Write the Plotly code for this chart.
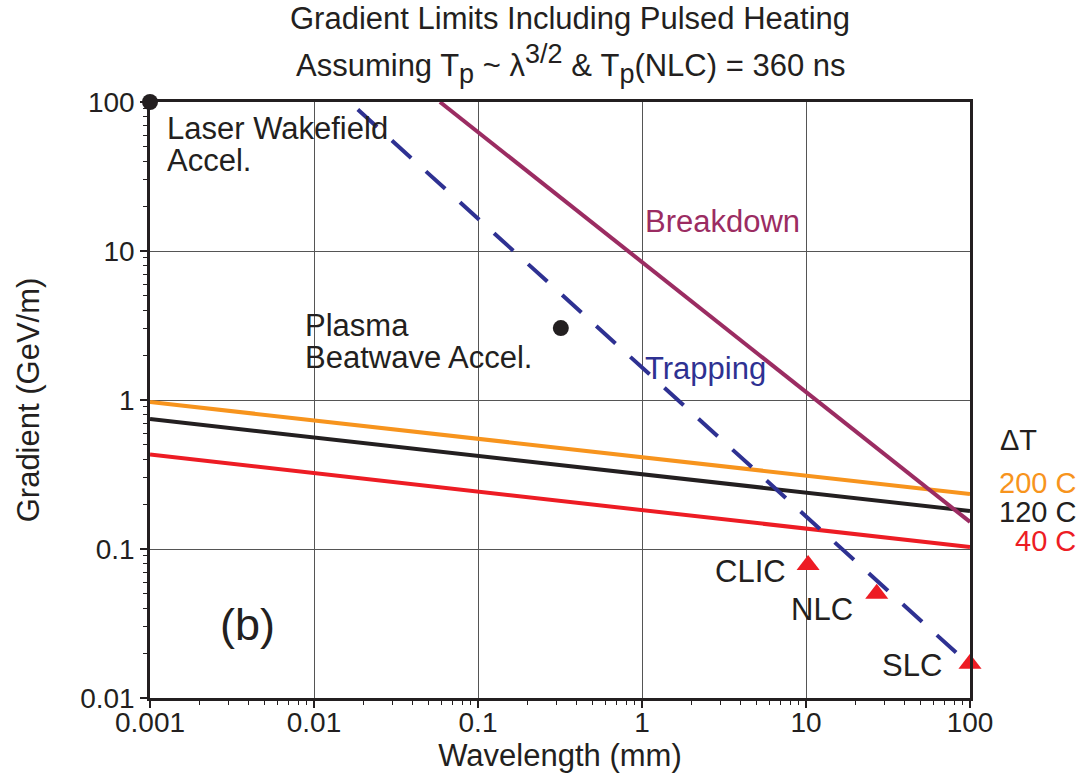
import plotly.graph_objects as go

# Data
breakdown_x = [0.0586, 100]
breakdown_y = [100, 0.152]
trapping_x = [0.0185, 100]
trapping_y = [89, 0.0166]
dt200_x = [0.001, 100]
dt200_y = [0.97, 0.234]
dt120_x = [0.001, 100]
dt120_y = [0.745, 0.18]
dt40_x = [0.001, 100]
dt40_y = [0.43, 0.103]
plasma_x = [0.001, 0.32]
plasma_y = [100, 3.04]
collider_names = ["CLIC", "NLC", "SLC"]
collider_x = [10.3, 27, 100]
collider_y = [0.078, 0.05, 0.017]
x_ticks = [0.001, 0.01, 0.1, 1, 10, 100]
x_ticklabels = ["0.001", "0.01", "0.1", "1", "10", "100"]
y_ticks = [0.01, 0.1, 1, 10, 100]
y_ticklabels = ["0.01", "0.1", "1", "10", "100"]

FONT = "Liberation Sans, Arial, sans-serif"
ORANGE = "#F7941D"
BLACK = "#231F20"
RED = "#ED1C24"
PURPLE = "#9B2C62"
BLUE = "#2E3192"
FS = 31

fig = go.Figure()
fig.add_trace(go.Scatter(x=dt200_x, y=dt200_y, mode="lines", line=dict(color=ORANGE, width=4), showlegend=False))
fig.add_trace(go.Scatter(x=dt120_x, y=dt120_y, mode="lines", line=dict(color=BLACK, width=4), showlegend=False))
fig.add_trace(go.Scatter(x=dt40_x, y=dt40_y, mode="lines", line=dict(color=RED, width=4), showlegend=False))
fig.add_trace(go.Scatter(x=breakdown_x, y=breakdown_y, mode="lines", line=dict(color=PURPLE, width=4), showlegend=False))
fig.add_trace(go.Scatter(x=trapping_x, y=trapping_y, mode="lines",
                         line=dict(color=BLUE, width=4, dash="26px,20px"), showlegend=False))
fig.add_trace(go.Scatter(x=plasma_x, y=plasma_y, mode="markers",
                         marker=dict(color=BLACK, size=16), cliponaxis=False, showlegend=False))
fig.add_trace(go.Scatter(x=collider_x, y=collider_y, mode="markers",
                         marker=dict(color=RED, size=20, symbol="triangle-up"), cliponaxis=False, showlegend=False))

def px2lx(px):
    return -3 + (px - 150) / 164

def py2ly(py):
    return 2 - (py - 102) / 149

ann = []
def add(text, x, y, color=BLACK, size=FS, xanchor="center", xref="x", yref="y", bg=None):
    d = dict(text=text, x=x, y=y, xref=xref, yref=yref, showarrow=False,
             font=dict(family=FONT, size=size, color=color), xanchor=xanchor,
             yanchor="middle", borderpad=0)
    if bg:
        d["bgcolor"] = bg
    ann.append(d)

add("Laser Wakefield", px2lx(166), py2ly(128), xanchor="left")
add("Accel.", px2lx(166), py2ly(160), xanchor="left")
add("Plasma", px2lx(304), py2ly(325), xanchor="left")
add("Beatwave Accel.", px2lx(304), py2ly(357), xanchor="left")
add("Breakdown", px2lx(722), py2ly(221), color=PURPLE, bg="white")
add("Trapping", px2lx(705), py2ly(368), color=BLUE)
add(collider_names[0], px2lx(787), py2ly(571), xanchor="right")
add(collider_names[1], px2lx(822), py2ly(609))
add(collider_names[2], px2lx(912), py2ly(665))
add("(b)", px2lx(247), py2ly(624), size=45)
# Right-side legend
add("ΔT", (1018 - 150) / 820, py2ly(440), xref="paper", size=29)
add("200 C", (1077 - 150) / 820, py2ly(483), color=ORANGE, xref="paper", xanchor="right", size=29)
add("120 C", (1077 - 150) / 820, py2ly(512), color=BLACK, xref="paper", xanchor="right", size=29)
add("40 C", (1077 - 150) / 820, py2ly(541), color=RED, xref="paper", xanchor="right", size=29)
# Title
add("Gradient Limits Including Pulsed Heating", (570 - 150) / 820, 1 + (102 - 19) / 596, xref="paper", yref="paper")
add("Assuming T<sub><span style='font-size:27px'>p</span></sub> ~ λ<sup><span style='font-size:27px'>3/2</span></sup> & "
    "T<sub><span style='font-size:27px'>p</span></sub>(NLC) = 360 ns",
    (570 - 150) / 820, 1 + (102 - 64) / 596, xref="paper", yref="paper")

axis_common = dict(
    showline=True, linecolor=BLACK, linewidth=2.5, mirror=True,
    showgrid=True, gridcolor="#555555", gridwidth=1.2,
    ticks="outside", ticklen=7, tickwidth=1.5, tickcolor=BLACK,
    tickfont=dict(family=FONT, size=28, color=BLACK),
    zeroline=False,
    minor=dict(ticks="outside", ticklen=4, tickwidth=1, tickcolor=BLACK, showgrid=False, dtick="D1"),
)

fig.update_layout(
    width=1083, height=783,
    margin=dict(l=150, r=113, t=102, b=85),
    paper_bgcolor="white", plot_bgcolor="white",
    annotations=ann,
    xaxis=dict(type="log", range=[-3, 2], tickvals=x_ticks, ticktext=x_ticklabels,
               ticklabelstandoff=-9,
               title=dict(text="Wavelength (mm)", font=dict(family=FONT, size=FS, color=BLACK), standoff=0),
               **axis_common),
    yaxis=dict(type="log", range=[-2, 2], tickvals=y_ticks, ticktext=y_ticklabels,
               title=dict(text="Gradient (GeV/m)", font=dict(family=FONT, size=FS, color=BLACK), standoff=32),
               **axis_common),
)

fig.write_html("out.html")
